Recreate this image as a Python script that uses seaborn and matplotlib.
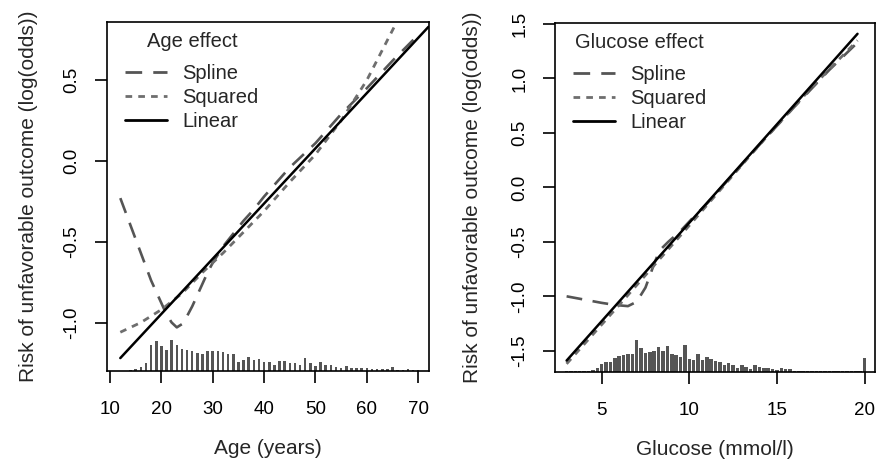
import numpy as np
import pandas as pd
import seaborn as sns
import matplotlib.pyplot as plt

# Age panel curves (log odds)
age_spline_x = [12, 14, 16, 18, 20, 21, 22, 23, 24, 25, 26, 27, 28, 29, 30, 31, 32, 34, 36, 38, 40, 45, 50, 55, 60, 65, 70]
age_spline_y = [-0.23, -0.40, -0.57, -0.74, -0.88, -0.95, -1.00, -1.03, -1.01, -0.96, -0.90, -0.83, -0.76, -0.69, -0.63,
                -0.58, -0.53, -0.45, -0.37, -0.30, -0.22, -0.04, 0.11, 0.29, 0.45, 0.62, 0.78]
age_squared_x = [12, 16, 20, 24, 28, 32, 36, 40, 45, 50, 55, 60, 65.5]
age_squared_y = [-1.06, -1.00, -0.92, -0.82, -0.69, -0.57, -0.44, -0.31, -0.13, 0.04, 0.25, 0.50, 0.84]
age_linear_x = [12, 72]
age_linear_y = [-1.22, 0.83]

# Age distribution (relative counts)
age_hist_x = list(range(14, 71))
age_hist_n = [3, 5, 13, 25, 78, 91, 76, 63, 93, 80, 68, 65, 61, 55, 53, 60, 61, 61, 58, 53, 51,
              28, 33, 43, 33, 36, 28, 28, 18, 31, 31, 25, 23, 18, 38, 23, 16, 28, 18, 18, 13,
              8, 15, 10, 8, 8, 10, 7, 5, 6, 7, 11, 2, 2, 5, 2, 2]

# Glucose panel curves
glu_spline_x = [3, 4, 5, 5.8, 6.5, 7.0, 7.5, 8.0, 8.3, 8.8, 9.5, 10.2, 11, 12, 14, 16, 18, 19.6]
glu_spline_y = [-1.00, -1.03, -1.06, -1.08, -1.09, -1.05, -0.92, -0.70, -0.58, -0.50, -0.40, -0.28, -0.15,
                0.03, 0.39, 0.74, 1.08, 1.33]
glu_squared_x = [3, 6, 10, 14, 17, 19.6]
glu_squared_y = [-1.62, -1.08, -0.35, 0.39, 0.92, 1.35]
glu_linear_x = [3, 19.6]
glu_linear_y = [-1.59, 1.41]

# Glucose distribution (relative counts), 0.25 mmol/l bins
glu_hist_x = [3.0 + 0.25 * i for i in range(69)]
glu_hist_n = [1, 1, 1, 1, 2, 3, 5, 12, 22, 30, 30, 43, 48, 52, 55, 53, 95, 72, 57, 60, 62, 75, 62, 77,
              55, 52, 45, 80, 38, 35, 53, 35, 45, 40, 33, 28, 20, 27, 20, 10, 20, 13, 8, 20, 14, 12,
              10, 7, 6, 10, 7, 8, 3, 2, 3, 2, 1, 2, 1, 2, 1, 1, 2, 1, 1, 1, 1, 1, 42]

sns.set_style("ticks")
plt.rcParams['font.family'] = ['Liberation Sans', 'DejaVu Sans']

fig = plt.figure(figsize=(8.76, 4.71), dpi=100)
ax1 = fig.add_axes([0.1221, 0.2123, 0.3676, 0.741])
ax2 = fig.add_axes([0.6336, 0.2106, 0.3653, 0.7412])

spline_style = dict(color='#555555', lw=1.9, linestyle=(0, (6, 4)))
squared_style = dict(color='#6e6e6e', lw=2.0, linestyle=(0, (2.4, 2.2)))
linear_style = dict(color='black', lw=1.8, linestyle='-')


def draw_panel(ax, sx, sy, qx, qy, lx, ly, hx, hn, xlim, ylim, xticks, yticks, hist_max, bar_w,
               xlabel, title, label_x):
    # distribution bars along the bottom
    scale = hist_max / max(hn)
    ax.bar(hx, np.array(hn) * scale, bottom=ylim[0], width=bar_w, color='#555555', lw=0, zorder=1)
    sns.lineplot(x=sx, y=sy, ax=ax, label='Spline', **spline_style)
    sns.lineplot(x=qx, y=qy, ax=ax, label='Squared', **squared_style)
    sns.lineplot(x=lx, y=ly, ax=ax, label='Linear', **linear_style)
    ax.set_xlim(*xlim)
    ax.set_ylim(*ylim)
    ax.set_xticks(xticks)
    ax.set_yticks(yticks)
    ax.set_yticklabels([f"{t:.1f}" for t in yticks])
    for s in ax.spines.values():
        s.set_visible(True)
        s.set_linewidth(1.2)
        s.set_color('black')
    ax.tick_params(direction='out', length=8.6, width=1.2, labelsize=13.5, colors='black')
    ax.tick_params(axis='x', pad=13)
    ax.tick_params(axis='y', pad=10.5, labelrotation=90)
    for lbl in ax.get_yticklabels():
        lbl.set_va('center')
    ax.set_xlabel(xlabel, fontsize=15)
    ax.set_ylabel('Risk of unfavorable outcome (log(odds))', fontsize=15)
    ax.xaxis.set_label_coords(0.5, -0.195)
    ax.yaxis.set_label_coords(label_x, 0.5)
    leg = ax.legend(loc='upper left', bbox_to_anchor=(0.056, 0.97), title=title, frameon=False,
                    fontsize=14.5, title_fontsize=14.5, handlelength=2.1, handletextpad=0.75,
                    labelspacing=0.25, borderpad=0, borderaxespad=0)
    leg._legend_box.sep = 9
    for h in leg.get_lines():
        h.set_linewidth(2.0)


draw_panel(ax1, age_spline_x, age_spline_y, age_squared_x, age_squared_y, age_linear_x, age_linear_y,
           age_hist_x, age_hist_n, (9.4, 72.1), (-1.30, 0.86), [10, 20, 30, 40, 50, 60, 70],
           [-1.0, -0.5, 0.0, 0.5], 0.19, 0.5, 'Age (years)', 'Age effect', -0.214)
draw_panel(ax2, glu_spline_x, glu_spline_y, glu_squared_x, glu_squared_y, glu_linear_x, glu_linear_y,
           glu_hist_x, glu_hist_n, (2.34, 20.6), (-1.693, 1.512), [5, 10, 15, 20],
           [-1.5, -1.0, -0.5, 0.0, 0.5, 1.0, 1.5], 0.29, 0.2, 'Glucose (mmol/l)', 'Glucose effect', -0.227)

plt.savefig('out.png', dpi=100)
